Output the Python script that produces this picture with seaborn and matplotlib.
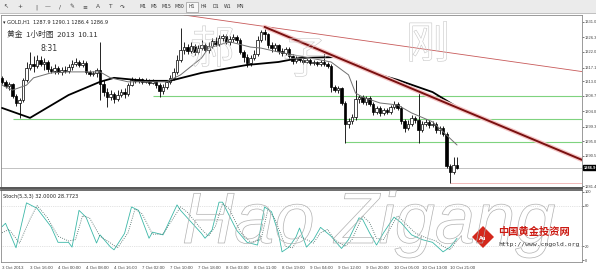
import matplotlib
matplotlib.use("Agg")
import matplotlib.pyplot as plt
import matplotlib.patheffects as pe
import matplotlib.transforms as mtransforms
from matplotlib.patches import Rectangle, Polygon
import numpy as np
import pandas as pd
import seaborn as sns

# ---------------- data (GOLD H1 candles) ----------------
opens = [1314.1, 1312.9, 1311.6, 1312.3, 1308.6, 1306.5, 1307.4, 1313.5, 1317.1, 1318.3,
         1317.7, 1319.5, 1318.3, 1318.9, 1316.8, 1316.2, 1317.1, 1315.9, 1316.5, 1316.2,
         1317.4, 1318.3, 1318.9, 1318.0, 1318.6, 1315.9, 1315.3, 1315.6, 1316.5, 1312.3,
         1309.8, 1308.3, 1309.2, 1307.7, 1308.9, 1309.8, 1309.2, 1311.9, 1313.5, 1313.2,
         1313.8, 1312.9, 1313.5, 1312.6, 1313.2, 1311.9, 1310.1, 1311.3, 1312.9, 1314.1,
         1315.9, 1319.5, 1322.5, 1323.4, 1322.2, 1323.7, 1321.9, 1323.1, 1324.0, 1322.5,
         1323.7, 1325.3, 1324.3, 1326.2, 1326.8, 1325.0, 1325.9, 1326.5, 1325.6, 1321.9,
         1320.4, 1318.6, 1320.1, 1321.3, 1325.6, 1328.0, 1327.4, 1324.0, 1323.1, 1324.0,
         1322.2, 1321.6, 1322.8, 1320.7, 1319.2, 1320.1, 1319.5, 1318.9, 1319.5, 1318.6,
         1318.9, 1318.3, 1318.9, 1318.3, 1317.7, 1311.3, 1310.4, 1311.0, 1306.5, 1300.2,
         1301.1, 1302.3, 1307.7, 1308.3, 1306.8, 1308.0, 1306.2, 1303.8, 1305.0, 1303.5,
         1304.4, 1303.8, 1305.3, 1306.2, 1305.0, 1301.1, 1298.9, 1300.2, 1302.0, 1301.4,
         1298.3, 1300.2, 1300.8, 1299.9, 1300.2, 1298.3, 1298.9, 1297.1, 1287.5, 1285.6,
         1287.9]
closes = [1312.9, 1311.6, 1312.3, 1308.6, 1306.5, 1307.4, 1313.5, 1317.1, 1318.3, 1317.7,
          1319.5, 1318.3, 1318.9, 1316.8, 1316.2, 1317.1, 1315.9, 1316.5, 1316.2, 1317.4,
          1318.3, 1318.9, 1318.0, 1318.6, 1315.9, 1315.3, 1315.6, 1316.5, 1312.3, 1309.8,
          1308.3, 1309.2, 1307.7, 1308.9, 1309.8, 1309.2, 1311.9, 1313.5, 1313.2, 1313.8,
          1312.9, 1313.5, 1312.6, 1313.2, 1311.9, 1310.1, 1311.3, 1312.9, 1314.1, 1315.9,
          1319.5, 1322.5, 1323.4, 1322.2, 1323.7, 1321.9, 1323.1, 1324.0, 1322.5, 1323.7,
          1325.3, 1324.3, 1326.2, 1326.8, 1325.0, 1325.9, 1326.5, 1325.6, 1321.9, 1320.4,
          1318.6, 1320.1, 1321.3, 1325.6, 1328.0, 1327.4, 1324.0, 1323.1, 1324.0, 1322.2,
          1321.6, 1322.8, 1320.7, 1319.2, 1320.1, 1319.5, 1318.9, 1319.5, 1318.6, 1318.9,
          1318.3, 1318.9, 1318.3, 1317.7, 1311.3, 1310.4, 1311.0, 1306.5, 1300.2, 1301.1,
          1302.3, 1307.7, 1308.3, 1306.8, 1308.0, 1306.2, 1303.8, 1305.0, 1303.5, 1304.4,
          1303.8, 1305.3, 1306.2, 1305.0, 1301.1, 1298.9, 1300.2, 1302.0, 1301.4, 1298.3,
          1300.2, 1300.8, 1299.9, 1300.2, 1298.3, 1298.9, 1297.1, 1287.5, 1285.6, 1287.9,
          1286.9]
highs = [1314.7, 1313.5, 1312.9, 1312.6, 1309.2, 1308.0, 1314.1, 1318.9, 1321.9, 1320.7,
         1321.0, 1320.7, 1320.1, 1319.5, 1317.7, 1318.3, 1317.7, 1317.4, 1317.7, 1318.3,
         1319.5, 1320.1, 1319.5, 1319.5, 1319.2, 1316.5, 1316.2, 1317.1, 1325.0, 1313.5,
         1311.0, 1310.4, 1309.8, 1310.4, 1310.7, 1311.0, 1312.6, 1314.4, 1314.1, 1314.4,
         1314.1, 1314.1, 1313.8, 1313.8, 1313.5, 1312.6, 1312.3, 1313.5, 1315.0, 1317.1,
         1321.0, 1329.2, 1325.0, 1324.3, 1325.0, 1324.3, 1324.0, 1325.6, 1324.6, 1325.0,
         1326.2, 1326.5, 1327.1, 1327.4, 1327.4, 1326.8, 1327.4, 1327.1, 1326.2, 1322.5,
         1321.3, 1321.0, 1322.5, 1326.8, 1328.6, 1329.5, 1327.7, 1325.0, 1324.6, 1324.3,
         1323.1, 1323.4, 1323.4, 1321.3, 1320.7, 1320.4, 1320.1, 1320.1, 1320.1, 1319.5,
         1319.2, 1319.5, 1321.6, 1318.9, 1318.3, 1311.9, 1311.6, 1311.3, 1307.1, 1302.0,
         1303.2, 1313.5, 1308.9, 1308.9, 1308.6, 1308.6, 1306.8, 1305.6, 1305.6, 1305.0,
         1305.0, 1305.9, 1307.1, 1306.8, 1305.6, 1301.7, 1301.4, 1302.9, 1302.6, 1310.4,
         1301.1, 1301.7, 1301.4, 1301.1, 1300.8, 1299.5, 1299.5, 1297.7, 1288.1, 1290.2,
         1290.1]
lows = [1312.3, 1311.0, 1310.4, 1308.0, 1305.6, 1302.0, 1306.8, 1312.9, 1316.5, 1315.9,
        1317.1, 1317.7, 1316.5, 1315.9, 1315.6, 1315.3, 1315.3, 1315.0, 1315.6, 1315.6,
        1316.5, 1317.7, 1317.4, 1317.4, 1315.3, 1314.7, 1314.7, 1314.4, 1307.4, 1308.6,
        1305.3, 1307.4, 1306.5, 1307.1, 1308.3, 1308.0, 1308.6, 1311.6, 1312.6, 1312.6,
        1312.3, 1312.6, 1311.9, 1312.3, 1311.0, 1308.3, 1309.2, 1310.7, 1312.3, 1313.5,
        1315.3, 1318.9, 1321.3, 1321.3, 1321.6, 1321.0, 1321.3, 1322.5, 1321.9, 1321.6,
        1323.1, 1323.7, 1323.7, 1325.3, 1324.3, 1324.0, 1325.0, 1324.6, 1321.3, 1318.9,
        1317.4, 1317.7, 1319.5, 1320.7, 1325.0, 1325.6, 1323.1, 1321.9, 1322.2, 1321.3,
        1320.7, 1321.0, 1319.8, 1318.3, 1318.6, 1318.9, 1318.3, 1318.6, 1318.0, 1318.0,
        1317.7, 1317.7, 1317.7, 1317.1, 1309.8, 1309.8, 1309.5, 1305.9, 1294.4, 1298.9,
        1300.2, 1301.4, 1306.5, 1306.2, 1305.9, 1305.6, 1302.9, 1303.2, 1302.6, 1302.9,
        1303.2, 1303.2, 1304.7, 1304.4, 1300.2, 1297.7, 1298.3, 1299.5, 1300.5, 1294.4,
        1297.7, 1299.5, 1298.9, 1299.2, 1297.4, 1297.1, 1296.5, 1286.9, 1282.3, 1285.0,
        1286.4]

# moving averages (bar index, price)
ma_fast_bar = [0, 3, 7, 9, 14, 19, 28, 31, 36, 42, 47, 51, 57, 59, 65, 71, 74, 79, 85,
               91, 94, 99, 101, 103, 108, 113, 117, 123, 130]
ma_fast_val = [1311.9, 1310.4, 1311.9, 1314.1, 1315.6, 1315.9, 1315.9, 1314.1, 1312.9,
               1312.9, 1312.9, 1315.0, 1320.1, 1323.1, 1325.0, 1323.4, 1323.1, 1321.9,
               1320.7, 1319.5, 1318.9, 1315.0, 1309.5, 1308.3, 1306.5, 1305.9, 1303.5,
               1300.8, 1293.8]
ma_slow_bar = [0, 8, 19, 28, 32, 41, 48, 57, 70, 79, 85, 96, 103, 108, 113, 123, 130]
ma_slow_val = [1305.0, 1302.0, 1308.9, 1312.9, 1314.1, 1313.2, 1313.2, 1315.6, 1318.0,
               1318.9, 1320.1, 1320.4, 1317.4, 1315.0, 1313.5, 1309.8, 1305.3]

# stochastic (5,3,3)
stoch_k_bar = [0, 1, 4, 7, 10, 14, 16, 19, 20, 22, 24, 27, 28, 31, 32, 35, 37, 39, 42, 43,
               46, 50, 51, 57, 58, 60, 62, 63, 67, 70, 73, 75, 77, 79, 80, 82, 84, 85, 87,
               89, 91, 94, 97, 99, 102, 103, 105, 107, 109, 112, 114, 117, 120, 123, 126,
               128, 130]
stoch_k_val = [49, 54, 18, 84, 76, 49, 26, 26, 19, 73, 63, 25, 37, 19, 15, 39, 78, 73, 32,
               41, 37, 81, 73, 39, 32, 44, 85, 85, 44, 26, 22, 78, 71, 39, 12, 19, 34, 47,
               19, 30, 48, 35, 17, 30, 62, 60, 40, 22, 40, 63, 55, 37, 30, 26, 12, 19, 32]
stoch_d_bar = [0, 2, 5, 8, 10, 13, 16, 19, 21, 23, 25, 28, 31, 33, 36, 38, 40, 43, 46, 51,
               53, 57, 59, 61, 63, 65, 68, 71, 74, 76, 78, 81, 83, 85, 87, 89, 91, 93, 95,
               98, 100, 103, 105, 107, 109, 113, 115, 118, 121, 124, 126, 128, 130]
stoch_d_val = [40, 45, 25, 60, 80, 62, 35, 28, 30, 65, 62, 35, 25, 18, 40, 75, 68, 38, 38,
               78, 70, 45, 35, 50, 83, 75, 42, 26, 30, 75, 60, 20, 18, 35, 30, 25, 40, 45,
               30, 20, 30, 65, 55, 32, 30, 65, 55, 40, 33, 28, 20, 15, 28.8]

price_ticks = [1331.0, 1326.3, 1322.0, 1317.1, 1313.0, 1308.7, 1304.0, 1299.3, 1295.0,
               1290.5, 1281.4]
stoch_ticks = [0, 20, 80, 100]
time_tick_bars = [0, 8, 16, 24, 32, 40, 48, 56, 64, 72, 80, 88, 96, 104, 112, 120, 128]
time_tick_labels = ["3 Oct 2013", "3 Oct 16:00", "4 Oct 00:00", "4 Oct 08:00",
                    "4 Oct 16:00", "7 Oct 02:00", "7 Oct 10:00", "7 Oct 18:00",
                    "8 Oct 03:00", "8 Oct 11:00", "8 Oct 19:00", "9 Oct 04:00",
                    "9 Oct 12:00", "9 Oct 20:00", "10 Oct 05:00", "10 Oct 13:00",
                    "10 Oct 21:00"]
support_levels = [1308.7, 1301.8, 1294.6]
support_start = [43, 3, 98]
last_price = 1286.9
trend_thin = ([52, 165.7], [1333.1, 1316.0])
trend_thick = ([75, 165.7], [1329.5, 1289.3])

# ---------------- figure ----------------
sns.set_theme(style="white")
plt.rcParams['font.family'] = ['DejaVu Sans', 'Noto Sans CJK SC']

W, H = 596, 270
fig = plt.figure(figsize=(W / 100, H / 100), dpi=100)
fig.patch.set_facecolor('white')


def fx(px):
    return px / W


def fy(py):
    return 1 - py / H


ax = fig.add_axes([fx(1), fy(188), fx(582) - fx(1), fy(15) - fy(188)])
sx = fig.add_axes([fx(1), fy(262), fx(582) - fx(1), fy(190) - fy(262)], sharex=ax)

bars = np.arange(len(opens))
o = np.array(opens)
c = np.array(closes)
h = np.array(highs)
l = np.array(lows)

# support / resistance lines
for lvl, st in zip(support_levels, support_start):
    ax.hlines(lvl, st, 166, color='#7fd37f', linewidth=0.8, zorder=1)
ax.axhline(last_price, color='#b8b8b8', linewidth=0.6, zorder=1)
ax.hlines(lows[128], 128, 166, color='#f0b0b0', linewidth=0.6, zorder=1)

# candles
ax.vlines(bars, l, h, color='black', linewidth=0.6, zorder=3)
up = c >= o
ax.bar(bars[up], (c - o)[up], bottom=o[up], width=0.62, facecolor='white',
       edgecolor='black', linewidth=0.5, zorder=4)
ax.bar(bars[~up], (o - c)[~up], bottom=c[~up], width=0.62, facecolor='black',
       edgecolor='black', linewidth=0.5, zorder=4)

# moving averages
sns.lineplot(x=ma_slow_bar, y=ma_slow_val, ax=ax, color='black', linewidth=1.3,
             legend=False, zorder=5)
sns.lineplot(x=ma_fast_bar, y=ma_fast_val, ax=ax, color='#707070', linewidth=0.7,
             legend=False, zorder=5)

# trend lines
ax.plot(*trend_thin, color='#c85a5a', linewidth=0.6, zorder=2)
ax.plot(*trend_thick, color='#7a1010', linewidth=1.4, zorder=6,
        path_effects=[pe.Stroke(linewidth=3.2, foreground='#f5c6c6'), pe.Normal()])

ax.set_xlim(-0.29, 165.7)
ax.set_ylim(1280.8, 1333.1)
ax.yaxis.tick_right()
ax.set_yticks(price_ticks)
ax.set_yticklabels([f"{v:.1f}" for v in price_ticks], family='Liberation Sans')
ax.tick_params(axis='y', labelsize=2.9, length=1.5, width=0.5, colors='#444', pad=0.6)
ax.tick_params(axis='x', length=0, labelbottom=False)
for s in ax.spines.values():
    s.set_color('#8a8a8a')
    s.set_linewidth(0.6)
ax.spines['bottom'].set_color('#555')
ax.spines['bottom'].set_linewidth(1.4)
ax.set_xlabel('')
ax.set_ylabel('')

# price box
blend = mtransforms.blended_transform_factory(ax.transAxes, ax.transData)
ax.text(1.003, last_price, f"{last_price:.1f}", transform=blend, fontsize=2.9,
        color='white', va='center', ha='left', fontweight='bold', family='Liberation Sans',
        bbox=dict(boxstyle='square,pad=0.12', facecolor='black', edgecolor='black'))

ax.text(0.004, 0.975, "\u25be GOLD,H1  1287.9 1290.1 1286.4 1286.9", transform=ax.transAxes,
        fontsize=3.6, color='#222', va='top', ha='left')
ax.text(0.011, 0.905, "黄金  1小时图  2013  10.11", transform=ax.transAxes,
        fontsize=5.6, color='#333', va='top', ha='left',
        family=['Noto Sans CJK SC', 'DejaVu Sans'])
ax.text(0.068, 0.835, "8:31", transform=ax.transAxes, fontsize=5.6, color='#333',
        va='top', ha='left')

# stochastic panel
sx.axhline(20, color='#c8c8c8', linewidth=0.5, linestyle=':')
sx.axhline(80, color='#c8c8c8', linewidth=0.5, linestyle=':')
sns.lineplot(x=stoch_k_bar, y=stoch_k_val, ax=sx, color='#3cb8a8', linewidth=0.6,
             legend=False)
sns.lineplot(x=stoch_d_bar, y=stoch_d_val, ax=sx, color='#3f5f5a', linewidth=0.6,
             linestyle=':', legend=False)
sx.set_ylim(-2.9, 102.9)
sx.yaxis.tick_right()
sx.set_yticks(stoch_ticks)
sx.set_yticklabels([str(v) for v in stoch_ticks], family='Liberation Sans')
sx.tick_params(axis='y', labelsize=2.9, length=1.5, width=0.5, colors='#444', pad=0.6)
sx.set_xticks(time_tick_bars)
sx.set_xticklabels(time_tick_labels, ha='left', family='Liberation Sans')
sx.tick_params(axis='x', labelsize=3.2, length=2, width=0.5, colors='#444', pad=0.8)
for s in sx.spines.values():
    s.set_color('#8a8a8a')
    s.set_linewidth(0.6)
sx.spines['top'].set_color('#555')
sx.spines['top'].set_linewidth(1.2)
sx.set_xlabel('')
sx.set_ylabel('')
sx.text(0.004, 0.95, "Stoch(5,3,3) 32.0000 28.7723", transform=sx.transAxes,
        fontsize=3.6, color='#222', va='top', ha='left')

# toolbar
fig.patches.append(Rectangle((0, fy(13)), 1, 13 / H, transform=fig.transFigure,
                             facecolor='#ebebeb', edgecolor='none', zorder=0))
fig.add_artist(plt.Line2D([0, 1], [fy(13), fy(13)], transform=fig.transFigure,
                          color='#b5b5b5', linewidth=0.6))
icons = ["\u2196", "+", "|", "\u2014", "/", "\u270e", "\u2261", "A", "T", "\u21b7"]
icon_x = [6, 20, 36, 48, 60, 72, 85, 98, 110, 122]
for t, xp in zip(icons, icon_x):
    fig.text(fx(xp), fy(7), t, fontsize=4.2, color='#444', ha='center', va='center')
periods = ["M1", "M5", "M15", "M30", "H1", "H4", "D1", "W1", "MN"]
period_x = [143, 154, 166, 179, 192, 204, 216, 228, 240]
for t, xp in zip(periods, period_x):
    fig.text(fx(xp), fy(7), t, fontsize=3.3, color='#333', ha='center', va='center')
fig.patches.append(Rectangle((fx(186), fy(12)), 12 / W, 10 / H, transform=fig.transFigure,
                             facecolor='#f8f8f8', edgecolor='#9a9a9a', linewidth=0.5))

# watermarks
wm = [pe.Stroke(linewidth=0.5, foreground='#b0b0b0')]
fig.text(fx(182), fy(243), "Hao Zigang", fontsize=52, family='Liberation Sans',
         style='italic', color=(1, 1, 1, 0), path_effects=wm, ha='left', va='baseline')
wm2 = [pe.Stroke(linewidth=0.4, foreground='#c6c6c6')]
for ch, xp, yp in zip(["郝", "子", "刚"], [212, 305, 428], [50, 60, 45]):
    fig.text(fx(xp), fy(yp), ch, fontsize=32, family=['Noto Sans CJK SC'],
             color=(1, 1, 1, 0), path_effects=wm2, ha='center', va='center')

# logo
fig.patches.append(Polygon([(fx(472), fy(237)), (fx(483), fy(226)), (fx(494), fy(237)),
                            (fx(483), fy(248))], closed=True, transform=fig.transFigure,
                           facecolor='#d4281c', edgecolor='none'))
fig.text(fx(483), fy(238), "Au", fontsize=3.6, color='white', ha='center', va='center',
         fontweight='bold')
fig.text(fx(498), fy(232), "中国黄金投资网", fontsize=7.4, color='#cc1a12', ha='left',
         va='center', family=['Noto Sans CJK SC', 'DejaVu Sans'], fontweight='bold')
fig.text(fx(498), fy(244.5), "http://www.cngold.org", fontsize=4.6, color='#333',
         ha='left', va='center', family='DejaVu Sans Mono')

fig.savefig("out.png", dpi=100, facecolor='white')
